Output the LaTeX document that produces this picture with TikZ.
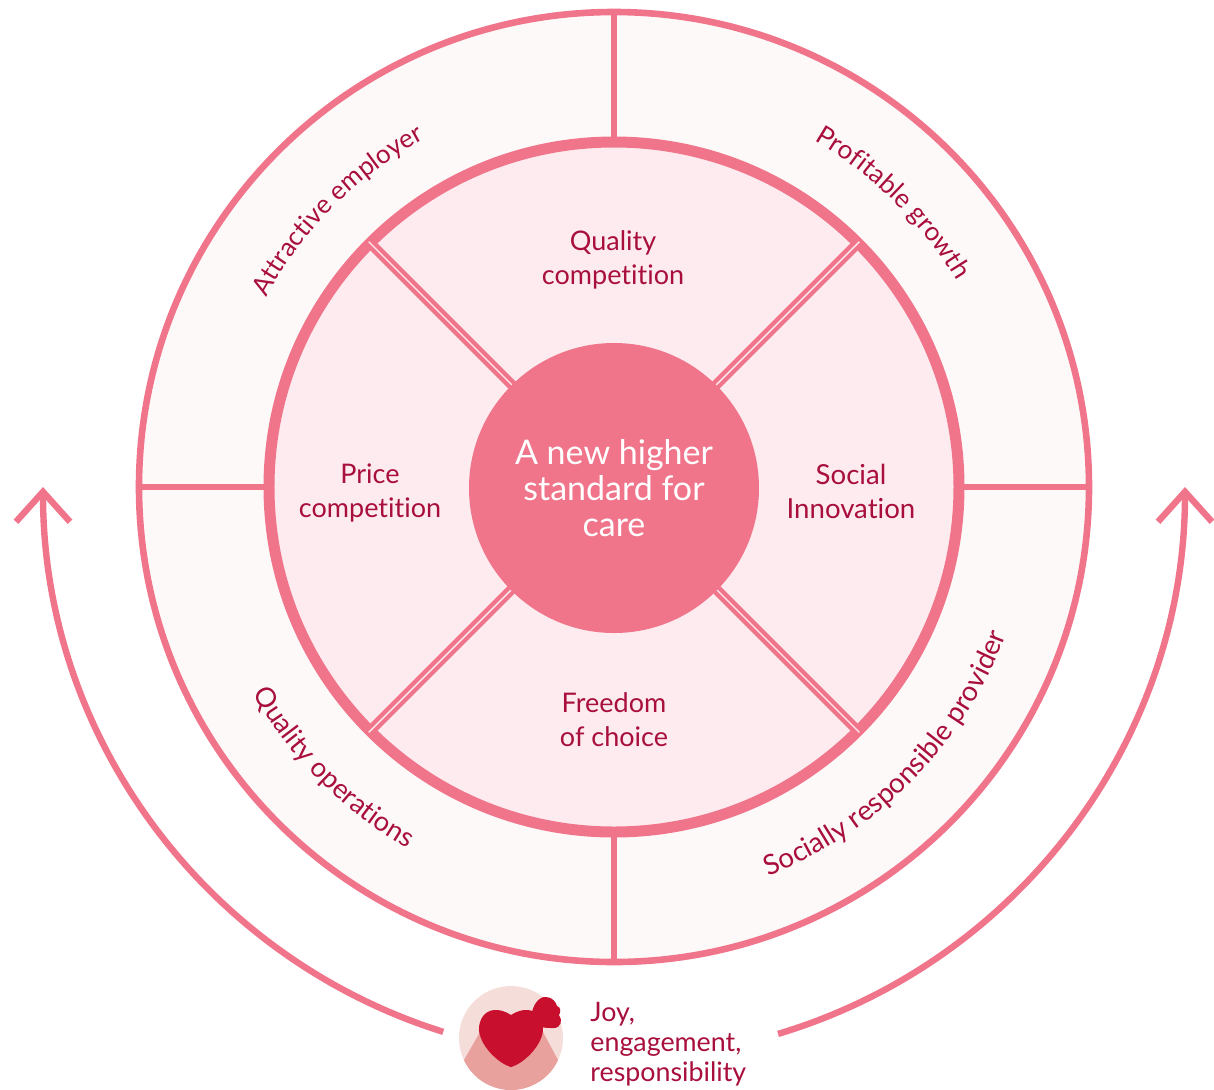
\documentclass[tikz,border=0pt]{standalone}
\usepackage{fontspec}
\setmainfont[Ligatures=NoCommon]{Lato}
\usetikzlibrary{arrows.meta, decorations.text}
\definecolor{ringpink}{HTML}{F0758B}
\definecolor{outerfill}{HTML}{FEF9F9}
\definecolor{innerfill}{HTML}{FDEBEF}
\definecolor{labelred}{HTML}{A80F3C}
\definecolor{heartred}{HTML}{C8102E}
\definecolor{heartbg}{HTML}{F5DEDA}
\definecolor{heartlow}{HTML}{E9A19E}
\newcommand{\labelfont}{\fontsize{13.5}{17}\selectfont}
\tikzset{
    sector/.style={text=labelred, align=center, font=\labelfont},
    spoke/.style={draw=ringpink, line width=3pt},
    diag/.style={draw=ringpink, line width=2.2pt, double=innerfill, double distance=0.7pt},
    sweep/.style={draw=ringpink, line width=3.2pt, -{Straight Barb[length=15pt, width=27pt]}},
    bent/.style 2 args={decorate, decoration={text along path, text align=center,
        text={|\fontsize{#1}{17}\selectfont\color{labelred}|#2}}}
}
\begin{document}
\begin{tikzpicture}[x=0.5pt, y=0.5pt]
    \useasboundingbox (-614,-602) rectangle (600,487);
    % outer ring
    \draw[ringpink, line width=3.3pt, fill=outerfill] (0,0) circle (475);
    \foreach \ang in {0,90,180,270} {
        \draw[spoke] (\ang:345) -- (\ang:475);
    }
    % inner ring and sector lines
    \draw[ringpink, line width=5.5pt, fill=innerfill] (0,0) circle (345);
    \foreach \ang in {45,135,225,315} {
        \draw[diag] (\ang:135) -- (\ang:347);
    }
    \node[circle, fill=ringpink, minimum size=145pt, inner sep=0pt, text=white, align=center,
        font=\fontsize{17}{18}\selectfont] (core) at (0,-1) {A new higher\\standard for\\care};
    % sectors
    \node[sector] (quality) at (-1,227) {Quality\\competition};
    \node[sector] (price) at (-244,-6) {Price\\competition};
    \node[sector, font=\fontsize{13.8}{17}\selectfont] (social) at (237,-4) {Social\\Innovation};
    \node[sector] (freedom) at (0,-233) {Freedom\\of choice};
    % text round the ring
    \path[bent={13}{Attractive employer}] (165:396) arc[start angle=165, end angle=105, radius=396];
    \path[bent={13.1}{Profitable growth}] (75.5:400) arc[start angle=75.5, end angle=15.5, radius=400];
    \path[bent={13.6}{Quality operations}] (195:416) arc[start angle=195, end angle=255, radius=416];
    \path[bent={13.9}{Socially responsible provider}] (285.5:419) arc[start angle=285.5, end angle=345.5, radius=419];
    % bottom badge
    \node[circle, fill=heartbg, minimum size=52pt, inner sep=0pt] (badge) at (-103,-551) {};
    \begin{scope}
        \clip (badge.center) circle (52);
        \fill[heartlow, shift={(badge.center)}] (-47,-22) -- (-31,6) -- (32,6) -- (47,-22) -- (47,-60) -- (-47,-60) -- cycle;
    \end{scope}
    \fill[heartred, shift={(badge.center)}]
        (20,20) .. controls (21,34) and (29,42) .. (35,41)
        .. controls (41,41) and (45,36) .. (46,32)
        .. controls (50,31) and (50,26) .. (48,23)
        .. controls (52,18) and (50,10) .. (43,10)
        .. controls (38,10) and (34,10) .. (30,11)
        -- cycle;
    \fill[heartred, shift={(badge.center)}]
        (0,23) .. controls (-6,27) and (-12,28.5) .. (-17,28)
        .. controls (-27,27) and (-32,18) .. (-32,9)
        .. controls (-32,-6) and (-14,-25) .. (0,-29)
        .. controls (14,-25) and (32,-6) .. (32,9)
        .. controls (32,18) and (27,27) .. (17,28)
        .. controls (12,28.5) and (6,27) .. (0,23) -- cycle;
    \node[sector, align=left, anchor=west, inner sep=0pt, font=\fontsize{13.4}{15}\selectfont] (joy) at (-24,-557) {Joy,\\engagement,\\responsibility};
    % arrows
    \coordinate (leftfoot) at (252.6:571);
    \coordinate (rightfoot) at (-73.3:571);
    \draw[sweep] (leftfoot) arc[start angle=252.6, end angle=180, radius=571];
    \draw[sweep] (rightfoot) arc[start angle=-73.3, end angle=0, radius=571];
\end{tikzpicture}
\end{document}
